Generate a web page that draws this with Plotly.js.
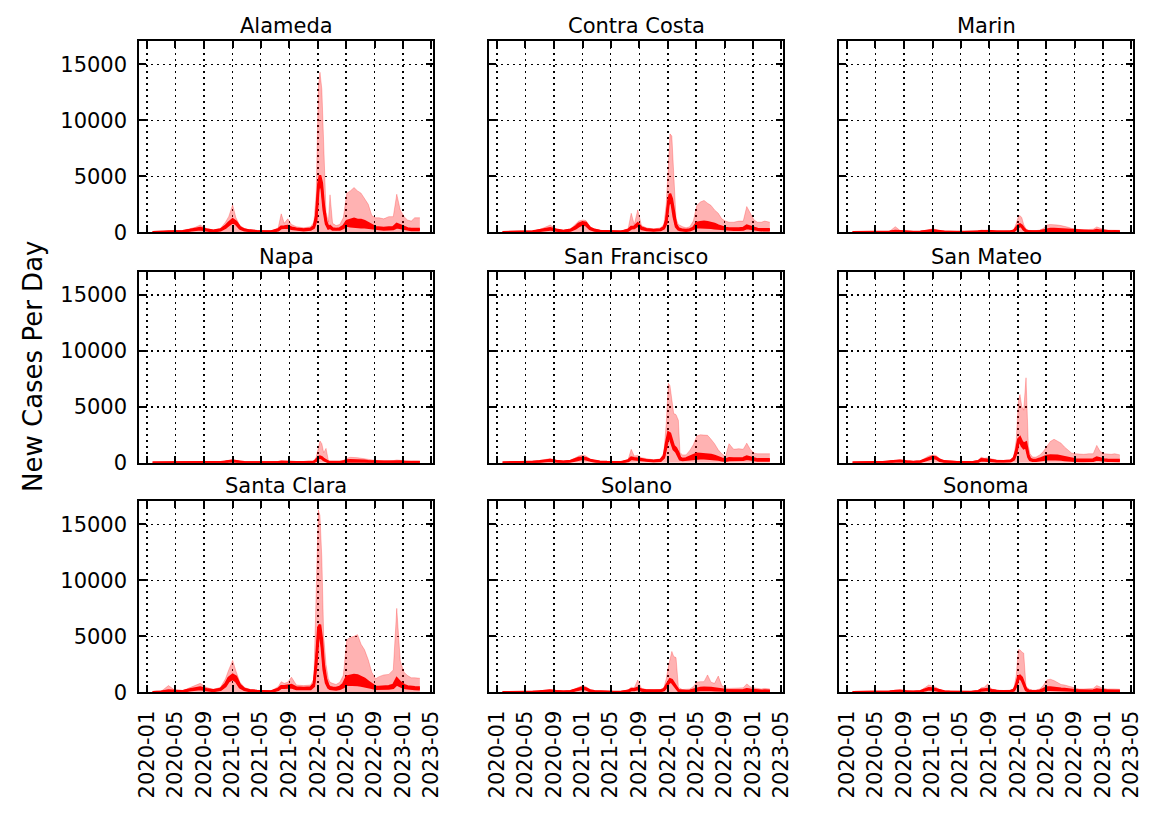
<!DOCTYPE html>
<html>
<head>
<meta charset="utf-8">
<script src="https://cdn.plot.ly/plotly-3.0.1.min.js"></script>
<style>html,body{margin:0;padding:0;background:#fff;}#chart{width:1161px;height:817px;}</style>
</head>
<body>
<div id="chart"></div>
<script>
// ---- data ----
const dates = ['2020-01-24','2020-03-01','2020-04-01','2020-05-01','2020-06-01','2020-07-01','2020-07-25','2020-08-15','2020-09-10','2020-10-10',
 '2020-11-10','2020-12-01','2020-12-15','2021-01-01','2021-01-15','2021-02-01','2021-02-20','2021-03-15','2021-04-15','2021-05-15',
 '2021-06-15','2021-07-15','2021-07-28','2021-08-10','2021-08-25','2021-09-10','2021-10-01','2021-11-01','2021-12-01','2021-12-15',
 '2021-12-25','2022-01-03','2022-01-10','2022-01-18','2022-01-26','2022-02-05','2022-02-15','2022-02-22','2022-03-05','2022-03-20',
 '2022-04-05','2022-04-20','2022-05-05','2022-05-20','2022-06-05','2022-06-20','2022-07-05','2022-07-20','2022-08-05','2022-08-20',
 '2022-09-05','2022-09-20','2022-10-10','2022-11-01','2022-11-20','2022-12-05','2022-12-20','2023-01-05','2023-01-20','2023-02-05',
 '2023-02-20','2023-03-14'];

const counties = ['Alameda','Contra Costa','Marin','Napa','San Francisco','San Mateo','Santa Clara','Solano','Sonoma'];
const tickDates = ['2020-01-01','2020-05-01','2020-09-01','2021-01-01','2021-05-01','2021-09-01','2022-01-01','2022-05-01','2022-09-01','2023-01-01','2023-05-01'];
const tickLabels = ['2020-01','2020-05','2020-09','2021-01','2021-05','2021-09','2022-01','2022-05','2022-09','2023-01','2023-05'];
const yTicks = [0,5000,10000,15000];

// daily new cases (upper envelope), 7-day average band (high / low)
const alamedaDaily = [10,30,150,100,150,300,450,650,350,200,350,900,1400,2450,1300,600,350,200,150,100,100,400,1650,800,1200,700,500,400,500,900,3500,13000,14300,12800,7000,1800,900,3350,800,600,700,1300,3500,3700,4000,3700,3500,3000,2500,1500,1300,1300,1200,1400,1400,3400,2000,1400,1100,1000,1300,1300];
const alamedaAvgHi = [5,20,80,60,100,200,300,380,250,150,250,550,850,1150,950,450,250,150,100,70,70,250,500,520,550,420,320,250,320,550,1500,4300,5100,4400,2500,1000,450,550,350,300,350,550,1000,1100,1200,1100,1100,1000,850,650,450,400,380,420,450,750,600,450,350,300,320,300];
const alamedaAvgLo = [0,10,50,40,70,150,220,280,180,100,180,400,650,900,750,350,180,110,70,50,50,180,380,400,400,320,250,180,250,420,1100,3800,4500,3800,2000,750,350,400,250,220,250,400,600,550,500,500,450,450,400,350,300,280,250,280,300,450,400,300,250,200,220,200];

const contraCostaDaily = [5,20,80,60,100,250,450,650,300,150,300,700,1000,1100,1050,500,300,150,120,80,80,350,1700,700,2000,600,400,300,400,700,2500,6000,8800,8600,5500,1200,700,600,500,400,500,1000,2400,2700,2850,2600,2400,2000,1700,1200,1000,900,900,1000,1000,2300,1700,1100,900,900,1000,900];
const contraCostaAvgHi = [5,15,50,40,70,180,300,350,220,120,220,480,750,900,850,400,220,120,90,60,60,220,480,500,800,400,280,200,260,450,1100,2800,3450,3000,1800,700,350,280,220,200,250,400,850,900,950,900,850,750,600,480,380,350,330,350,380,600,500,380,300,280,300,280];
const contraCostaAvgLo = [0,10,30,30,50,130,220,260,160,90,160,350,550,700,650,300,160,90,60,40,40,160,350,380,600,300,200,150,200,350,800,2400,3000,2500,1400,500,250,200,160,150,180,300,450,450,450,400,400,350,320,280,250,220,220,230,250,380,330,250,200,180,200,180];

const marinDaily = [0,5,20,20,30,100,500,150,60,40,60,150,250,320,250,120,60,40,30,20,20,80,200,180,200,150,100,80,120,250,800,1400,1500,1300,700,300,180,150,150,150,200,350,650,700,700,650,600,550,450,350,280,250,220,250,280,480,350,250,200,180,200,180];
const marinAvgHi = [0,3,10,10,15,50,120,80,40,25,40,90,150,180,150,70,40,25,20,15,15,50,100,110,120,90,60,50,70,140,400,650,700,600,350,150,90,80,80,80,100,180,280,300,300,280,260,240,200,160,130,110,100,110,120,200,150,110,90,80,90,80];
const marinAvgLo = [0,0,5,5,10,30,80,50,25,15,25,60,100,130,100,50,25,15,10,10,10,30,70,80,90,60,40,35,50,100,300,550,600,500,250,100,60,50,50,50,70,120,150,150,150,140,130,120,110,90,80,70,60,70,80,120,100,70,60,50,60,50];

const napaDaily = [0,3,10,10,20,50,80,100,60,40,60,150,250,300,220,100,50,30,25,20,20,60,150,130,150,100,70,60,80,150,500,1200,1950,1700,900,1280,200,120,100,80,100,200,400,480,480,450,400,350,300,220,180,160,150,160,180,250,200,150,120,110,120,110];
const napaAvgHi = [0,2,5,5,10,25,45,55,35,20,35,90,150,180,140,60,30,20,15,12,12,40,80,85,90,65,45,40,50,90,250,480,540,480,320,180,80,60,50,45,55,100,200,220,220,210,190,170,140,110,90,80,75,80,90,130,100,80,65,60,65,60];
const napaAvgLo = [0,0,3,3,5,15,30,35,20,12,20,60,100,130,100,40,20,12,10,8,8,25,55,60,60,45,30,25,35,60,180,400,450,400,250,120,50,40,35,30,40,70,110,110,110,100,95,85,80,70,60,50,50,55,60,80,70,50,45,40,45,40];

const sanFranciscoDaily = [5,20,100,80,100,180,300,380,200,120,200,450,600,700,600,350,200,120,80,50,60,300,1200,600,650,450,350,250,350,900,3500,7100,6900,5600,4400,4300,3800,900,700,700,1100,1600,2400,2500,2450,2450,2100,1700,1150,800,550,1700,1200,1250,1200,1750,1200,850,800,800,850,800];
const sanFranciscoAvgHi = [3,10,60,50,60,120,200,250,150,90,150,300,420,450,400,250,150,90,60,40,40,200,450,400,380,300,230,180,250,600,1800,2700,2600,2000,1500,1300,900,450,330,380,550,700,800,780,760,740,680,600,460,350,280,400,380,400,400,550,450,350,300,300,320,300];
const sanFranciscoAvgLo = [0,5,40,35,40,80,140,180,100,60,100,220,320,350,300,180,100,60,40,25,25,140,350,300,280,220,170,130,180,450,1400,2300,2200,1600,1200,1000,600,300,240,270,350,400,400,400,400,380,350,320,280,220,180,250,250,260,260,350,300,230,200,200,210,200];

const sanMateoDaily = [3,15,60,50,70,150,220,280,180,100,180,400,600,700,650,350,180,100,70,50,50,200,500,400,450,350,250,200,280,600,2000,5500,6100,5000,4700,7600,1500,800,500,500,700,1000,1500,1900,2100,1950,1750,1400,1150,850,800,750,750,800,800,1550,1000,800,750,750,800,700];
const sanMateoAvgHi = [2,8,40,30,45,100,150,180,110,65,110,280,430,530,480,240,120,65,45,30,30,130,300,280,280,220,160,130,180,400,1100,2100,2260,1900,1700,1800,700,350,250,250,350,480,600,650,650,620,560,480,400,320,280,260,260,280,290,450,350,280,260,260,270,250];
const sanMateoAvgLo = [0,4,25,20,30,70,100,130,80,45,80,200,330,420,380,170,80,45,30,20,20,90,220,200,200,160,110,90,130,300,850,1800,1900,1500,1300,1400,500,250,180,180,230,300,300,320,320,300,280,250,220,180,170,160,160,170,180,280,230,180,170,170,170,160];

const santaClaraDaily = [10,100,600,150,150,400,600,800,450,250,450,1200,2000,2850,1900,900,450,250,180,120,120,500,950,800,900,1350,650,600,650,1200,9000,16300,15800,12000,5000,2500,1200,900,800,700,900,1500,4700,4900,5000,5150,4300,3800,2900,1800,1200,1400,1550,1600,2000,7500,2800,1800,1500,1300,1300,1250];
const santaClaraAvgHi = [5,40,150,100,100,250,350,420,280,180,300,750,1300,1560,1400,650,300,180,120,80,80,300,550,550,600,650,420,380,420,750,3000,5800,6050,4800,2500,1200,600,450,400,380,480,750,1400,1500,1550,1500,1350,1200,950,700,500,480,500,550,650,1250,900,650,520,460,450,430];
const santaClaraAvgLo = [0,20,100,70,70,180,250,300,200,120,220,550,1000,1200,1000,450,220,120,80,55,55,220,400,400,420,450,300,280,300,550,2400,5000,5300,4000,2000,850,420,320,280,260,320,450,700,700,700,650,600,550,500,400,320,320,330,350,400,700,550,400,350,300,300,280];

const solanoDaily = [2,5,30,30,50,120,200,250,150,100,150,350,500,600,500,250,130,80,60,40,50,200,450,400,1100,350,250,200,250,400,1200,2300,3000,3650,3200,3100,500,350,250,250,300,500,900,950,950,1550,900,800,1450,600,400,350,350,380,400,750,500,400,350,300,350,300];
const solanoAvgHi = [1,3,20,20,30,80,130,160,100,60,100,250,350,420,350,170,90,55,40,25,30,130,280,280,400,220,160,130,160,260,600,1000,1170,1100,850,600,200,150,120,120,150,220,350,380,400,420,380,350,320,250,180,160,160,170,180,280,220,170,150,140,150,140];
const solanoAvgLo = [0,1,10,10,20,50,90,110,70,40,70,180,260,320,260,120,60,35,25,15,20,90,200,200,300,160,110,90,110,190,450,800,950,900,650,450,140,100,80,80,100,150,200,200,200,220,200,190,180,150,110,100,100,110,120,170,140,110,100,90,100,90];

const sonomaDaily = [2,5,20,20,40,100,180,220,130,80,150,450,650,550,450,220,110,70,50,30,40,150,400,450,750,300,200,160,200,350,1500,3800,3800,3600,3500,500,300,250,200,200,300,600,1100,1170,1050,900,700,650,550,450,350,300,300,320,350,600,450,350,300,270,300,270];
const sonomaAvgHi = [1,3,12,12,25,60,110,130,80,50,90,270,350,330,270,130,70,45,30,20,25,100,230,260,300,180,120,100,120,220,700,1400,1470,1300,900,300,150,120,100,100,150,280,420,440,420,380,320,290,250,200,160,140,140,150,160,250,200,160,140,130,140,130];
const sonomaAvgLo = [0,1,6,6,15,40,75,90,55,35,60,190,260,250,200,90,45,30,20,12,15,70,170,190,220,130,85,70,85,160,550,1200,1250,1100,700,200,100,80,70,70,100,180,220,230,220,200,180,160,140,120,100,90,90,95,100,150,130,100,90,80,90,80];

const dailySeries = [alamedaDaily, contraCostaDaily, marinDaily, napaDaily, sanFranciscoDaily, sanMateoDaily, santaClaraDaily, solanoDaily, sonomaDaily];
const avgHiSeries = [alamedaAvgHi, contraCostaAvgHi, marinAvgHi, napaAvgHi, sanFranciscoAvgHi, sanMateoAvgHi, santaClaraAvgHi, solanoAvgHi, sonomaAvgHi];
const avgLoSeries = [alamedaAvgLo, contraCostaAvgLo, marinAvgLo, napaAvgLo, sanFranciscoAvgLo, sanMateoAvgLo, santaClaraAvgLo, solanoAvgLo, sonomaAvgLo];

// ---- layout geometry ----
const W = 1161, H = 817;
const colPx = [[139.3,432.7],[489.3,782.7],[839.3,1132.7]];
const rowPx = [[41,232.3],[271.7,462.7],[501,692.3]];
const FONT = 'DejaVu Sans, Liberation Sans, sans-serif';

const traces = [];
const layout = {
  width: W, height: H,
  margin: {l:0, r:0, t:0, b:0},
  paper_bgcolor: '#ffffff', plot_bgcolor: '#ffffff',
  showlegend: false,
  font: {family: FONT, color: '#000', size: 21},
  annotations: []
};

counties.forEach((name, i) => {
  const r = Math.floor(i / 3), c = i % 3;
  const sfx = i === 0 ? '' : String(i + 1);
  const xa = 'x' + sfx, ya = 'y' + sfx;
  traces.push({x: dates, y: dailySeries[i], xaxis: xa, yaxis: ya, type: 'scatter', mode: 'lines',
    line: {color: 'rgba(255,0,0,0.3)', width: 0.8}, fill: 'tozeroy', fillcolor: 'rgba(255,0,0,0.3)', hoverinfo: 'skip'});
  traces.push({x: dates, y: avgLoSeries[i], xaxis: xa, yaxis: ya, type: 'scatter', mode: 'lines',
    line: {color: '#ff0000', width: 2.5}, hoverinfo: 'skip'});
  traces.push({x: dates, y: avgHiSeries[i], xaxis: xa, yaxis: ya, type: 'scatter', mode: 'lines',
    line: {color: '#ff0000', width: 2.5}, fill: 'tonexty', fillcolor: '#ff0000', hoverinfo: 'skip'});

  const xd = [colPx[c][0] / W, colPx[c][1] / W];
  const yd = [1 - rowPx[r][1] / H, 1 - rowPx[r][0] / H];
  const common = {
    showline: true, linecolor: '#000', linewidth: 2, mirror: 'allticks',
    ticks: 'inside', ticklen: 7, tickwidth: 2, tickcolor: '#000',
    showgrid: true, gridcolor: '#000', gridwidth: 1.6, griddash: '2px,4px',
    zeroline: false, fixedrange: true, layer: 'above traces',
    tickfont: {family: FONT, size: 21, color: '#000'}
  };
  layout['xaxis' + sfx] = Object.assign({}, common, {
    domain: xd, anchor: ya, type: 'date', range: ['2019-11-28', '2023-05-08'],
    tickmode: 'array', tickvals: tickDates, ticktext: tickLabels,
    showticklabels: r === 2, tickangle: -90, ticklabelstandoff: 8
  });
  layout['yaxis' + sfx] = Object.assign({}, common, {
    domain: yd, anchor: xa, range: [0, 17094],
    tickmode: 'array', tickvals: yTicks, ticktext: yTicks.map(String),
    showticklabels: c === 0, ticklabelstandoff: 6
  });
  layout.annotations.push({
    text: name, xref: 'paper', yref: 'paper', x: (xd[0] + xd[1]) / 2, y: yd[1],
    xanchor: 'center', yanchor: 'bottom', yshift: 1, showarrow: false,
    font: {family: FONT, size: 21, color: '#000'}
  });
});

layout.annotations.push({
  text: 'New Cases Per Day', xref: 'paper', yref: 'paper', x: 33 / W, y: 1 - 367 / H,
  xanchor: 'center', yanchor: 'middle', textangle: -90, showarrow: false,
  font: {family: FONT, size: 26, color: '#000'}
});

Plotly.newPlot('chart', traces, layout, {staticPlot: true, displayModeBar: false});
</script>
</body>
</html>
